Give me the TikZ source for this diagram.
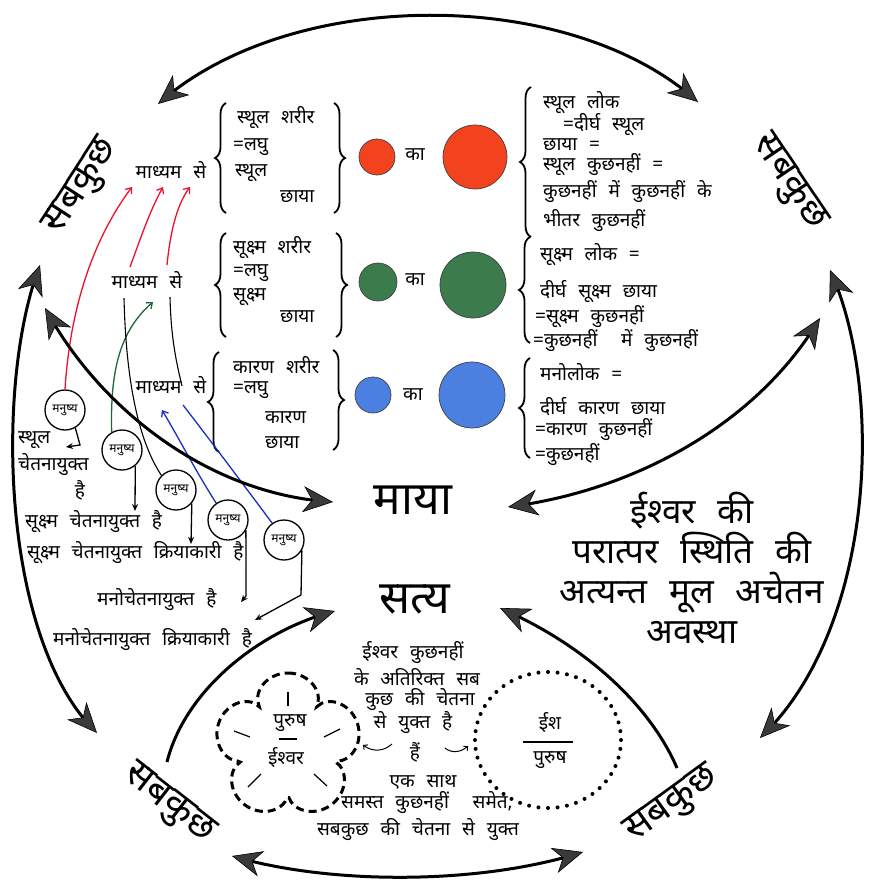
\documentclass[tikz,border=0pt]{standalone}
\usepackage{fontspec}
\setmainfont{Noto Sans}[Script=Devanagari,WordSpace=2.4]
\usetikzlibrary{arrows.meta,decorations.pathreplacing,bending,calc}
\definecolor{headgray}{HTML}{3A3A3A}
\definecolor{cred}{HTML}{F2431E}
\definecolor{cgreen}{HTML}{3C7B4C}
\definecolor{cblue}{HTML}{4C80E0}
\definecolor{lred}{HTML}{F0102E}
\definecolor{lgreen}{HTML}{1E6638}
\definecolor{lblue}{HTML}{1C2FC4}
\begin{document}
\begin{tikzpicture}[x=1pt,y=-1pt,
  >={Stealth[length=30pt,width=26pt,inset=9pt,fill=headgray,line width=0.6pt]},
  bigline/.style={line width=3pt,draw=black},
  txt/.style={font=\fontsize{19}{21}\selectfont,inner sep=0pt},
  txtw/.style={txt,anchor=west},
  bigt/.style={font=\fontsize{46}{50}\selectfont,inner sep=0pt},
  midt/.style={font=\fontsize{35}{40}\selectfont,inner sep=0pt,align=center},
  sab/.style={font=\fontsize{39}{42}\selectfont,inner sep=0pt},
  brc/.style={decorate,decoration={brace,amplitude=11pt},line width=1.8pt},
  dot/.style={circle,draw=black!75,line width=0.7pt,inner sep=0pt},
  man/.style={circle,draw,line width=1.3pt,minimum size=40pt,inner sep=0pt,font=\fontsize{12}{13}\selectfont},
  thin/.style={line width=1.3pt,-{Stealth[length=7pt,width=6pt]}},
  colarr/.style={line width=1.3pt,-{Straight Barb[length=5pt,width=8pt]}},
  flower/.style={line width=3pt,dash pattern=on 8pt off 5pt}
]
\useasboundingbox (0,0) rectangle (870,880);
\fill[white] (0,0) rectangle (870,880);

% ---- corner labels
\node[sab,rotate=57] (sbtl) at (83,187) {सबकुछ};
\node[sab,rotate=-56] (sbtr) at (788,183) {सबकुछ};
\node[sab,rotate=-38] (sbbl) at (168,805) {सबकुछ};
\node[sab,rotate=36] (sbbr) at (673,806) {सबकुछ};

% ---- centre labels
\node[bigt] (maya) at (413,500) {माया};
\node[bigt] (satya) at (415,600) {सत्य};
\node[midt] (ishwar) at (692,568) {ईश्वर की\\परात्पर स्थिति की\\अत्यन्त मूल अचेतन\\अवस्था};

% ---- row 1
\node[txt] (mad1) at (171,170) {माध्यम से};
\draw[brc] (226,213) -- (226,103);
\node[txtw] (r1a) at (237,118) {स्थूल शरीर};
\node[txtw] (r1b) at (233,147) {=लघु};
\node[txtw] (r1c) at (235,173) {स्थूल};
\node[txtw] (r1d) at (280,197) {छाया};
\draw[brc] (334,103) -- (334,213);
\node[dot,fill=cred,minimum size=36pt] (c1s) at (377,157) {};
\node[txt] (ka1) at (415,155) {का};
\node[dot,fill=cred,minimum size=64pt] (c1b) at (475,157) {};
\draw[brc] (531,237) -- (531,87);
\node[txtw] (l1a) at (543,103) {स्थूल लोक};
\node[txtw] (l1b) at (563,125) {=दीर्घ स्थूल};
\node[txtw] (l1c) at (543,145) {छाया =};
\node[txtw] (l1d) at (543,165) {स्थूल कुछनहीं =};
\node[txtw] (l1e) at (543,192) {कुछनहीं में कुछनहीं के};
\node[txtw] (l1f) at (543,221) {भीतर कुछनहीं};

% ---- row 2
\node[txt] (mad2) at (147,280) {माध्यम से};
\draw[brc] (226,337) -- (226,233);
\node[txtw] (r2a) at (233,248) {सूक्ष्म शरीर};
\node[txtw] (r2b) at (233,273) {=लघु};
\node[txtw] (r2c) at (233,297) {सूक्ष्म};
\node[txtw] (r2d) at (280,317) {छाया};
\draw[brc] (336,233) -- (336,337);
\node[dot,fill=cgreen,minimum size=38pt] (c2s) at (378,282) {};
\node[txt] (ka2) at (415,280) {का};
\node[dot,fill=cgreen,minimum size=66pt] (c2b) at (473,285) {};
\draw[brc] (530,343) -- (530,237);
\node[txtw] (l2a) at (540,255) {सूक्ष्म लोक =};
\node[txtw] (l2b) at (540,292) {दीर्घ सूक्ष्म छाया};
\node[txtw] (l2c) at (535,317) {=सूक्ष्म कुछनहीं};
\node[txtw] (l2d) at (533,341) {=कुछनहीं \ में कुछनहीं};

% ---- row 3
\node[txt] (mad3) at (171,385) {माध्यम से};
\draw[brc] (219,452) -- (219,352);
\node[txtw] (r3a) at (233,365) {कारण शरीर};
\node[txtw] (r3b) at (233,390) {=लघु};
\node[txtw] (r3c) at (265,418) {कारण};
\node[txtw] (r3d) at (265,443) {छाया};
\draw[brc] (333,350) -- (333,450);
\node[dot,fill=cblue,minimum size=36pt] (c3s) at (373,395) {};
\node[txt] (ka3) at (413,395) {का};
\node[dot,fill=cblue,minimum size=66pt] (c3b) at (472,395) {};
\draw[brc] (530,458) -- (530,358);
\node[txtw] (l3a) at (540,372) {मनोलोक =};
\node[txtw] (l3b) at (540,407) {दीर्घ कारण छाया};
\node[txtw] (l3c) at (535,430) {=कारण कुछनहीं};
\node[txtw] (l3d) at (535,455) {=कुछनहीं};

% ---- manushya circles
\node[man] (m1) at (65,410) {मनुष्य};
\node[man] (m2) at (122,450) {मनुष्य};
\node[man] (m3) at (176,490) {मनुष्य};
\node[man] (m4) at (228,520) {मनुष्य};
\node[man] (m5) at (284,540) {मनुष्य};

\node[txtw] (t1a) at (18,440) {स्थूल};
\node[txtw] (t1b) at (18,465) {चेतनायुक्त};
\node[txt] (t1c) at (80,490) {है};
\node[txtw] (t2) at (25,522) {सूक्ष्म चेतनायुक्त है};
\node[txtw] (t3) at (27,553) {सूक्ष्म चेतनायुक्त क्रियाकारी है};
\node[txtw] (t4) at (97,600) {मनोचेतनायुक्त है};
\node[txtw] (t5) at (53,640) {मनोचेतनायुक्त क्रियाकारी है};

\coordinate (m1e) at (66,447);
\draw[thin] (m1.-60) -- (80,445) -- (m1e);
\draw[thin] (m2.-50) -- (135,511);
\draw[thin] (m3.-40) -- (191,544);
\draw[thin] (m4.-30) -- (246,596) -- (241,602);
\draw[thin] (m5.-30) -- (301,595) -- (255,620);

% ---- coloured connectors
\coordinate (ra) at (132,187);
\coordinate (rb) at (163,187);
\coordinate (rc) at (190,187);
\draw[colarr,lred] (m1.north) .. controls (70,310) and (92,240) .. (ra);
\coordinate (rbs) at (130,267);
\coordinate (rcs) at (167,265);
\draw[colarr,lred] (rbs) .. controls (140,240) and (150,210) .. (rb);
\draw[colarr,lred] (rcs) .. controls (170,235) and (176,205) .. (rc);
\coordinate (ge) at (153,302);
\draw[colarr,lgreen] (m2.120) .. controls (110,370) and (120,330) .. (ge);
\coordinate (k1) at (124,298);
\draw[line width=1.1pt] (k1) .. controls (126,380) and (138,440) .. (m3.135);
\coordinate (k2) at (170,297);
\coordinate (k2e) at (182,386);
\draw[line width=1.1pt] (k2) .. controls (171,340) and (177,365) .. (k2e);
\coordinate (be) at (162,410);
\draw[colarr,lblue] (m4.125) .. controls (195,470) and (180,440) .. (be);
\coordinate (b2e) at (183,405);
\draw[line width=1.3pt,lblue] (m5.125) .. controls (240,480) and (210,440) .. (b2e);

% ---- big connectors
\coordinate (tl) at (158,104);
\coordinate (tr) at (698,102);
\draw[bigline,<->] (tl) .. controls (290,-14) and (570,-14) .. (tr);
\coordinate (lt) at (40,265);
\coordinate (lb) at (97,733);
\draw[bigline,<->] (lt) .. controls (-5,380) and (0,640) .. (lb);
\coordinate (rt) at (830,270);
\coordinate (rbb) at (760,738);
\draw[bigline,<->] (rt) .. controls (885,390) and (875,630) .. (rbb);
\coordinate (bl) at (232,856);
\coordinate (br) at (583,852);
\draw[bigline,<->] (bl) .. controls (330,885) and (480,885) .. (br);
\coordinate (lm) at (45,308);
\coordinate (mw) at (333,502);
\draw[bigline,<->] (lm) .. controls (100,410) and (210,495) .. (mw);
\coordinate (me) at (508,507);
\coordinate (mr) at (820,318);
\draw[bigline,<->] (me) .. controls (640,490) and (760,420) .. (mr);
\coordinate (s1) at (167,762);
\coordinate (s1e) at (335,611);
\draw[bigline,->] (s1) .. controls (185,690) and (260,630) .. (s1e);
\coordinate (s2) at (677,768);
\coordinate (s2e) at (500,608);
\draw[bigline,->] (s2) .. controls (650,705) and (585,645) .. (s2e);

% ---- bottom centre text
\node[txt] (b1) at (413,653) {ईश्वर कुछनहीं};
\node[txt] (b2) at (417,677) {के अतिरिक्त सब};
\node[txt] (b3) at (420,700) {कुछ की चेतना};
\node[txt] (b4) at (413,723) {से युक्त है};
\node[txt] (b5) at (415,752) {हैं};
\node[txt] (b6) at (423,782) {एक साथ};
\node[txt] (b7) at (427,803) {समस्त कुछनहीं \ समेत,};
\node[txt] (b8) at (418,830) {सबकुछ की चेतना से युक्त};
\coordinate (hls) at (392,744);
\coordinate (hl) at (363,745);
\coordinate (hrs) at (445,748);
\coordinate (hr) at (468,746);
\draw[line width=1pt,-{Straight Barb[length=3pt,width=6pt]}] (hls) .. controls (383,752) and (372,752) .. (hl);
\draw[line width=1pt,-{Straight Barb[length=3pt,width=6pt]}] (hrs) .. controls (452,754) and (462,752) .. (hr);

% ---- flower (purush / ishvar)
\draw[flower] plot[samples=180,domain=0:360] ({288+(46+27*sqrt(abs(cos(2.5*\x))))*sin(\x)},{746-(46+27*sqrt(abs(cos(2.5*\x))))*cos(\x)}) -- cycle;
\node[txt] (pu) at (290,723) {पुरुष};
\node[txt] (iv) at (286,758) {ईश्वर};
\draw[line width=1.2pt] (279,739) -- (297,739);
\draw[line width=1.2pt] (288,692) -- (288,706);
\draw[line width=1.2pt] (234,731) -- (250,737);
\draw[line width=1.2pt] (324,737) -- (340,729);
\draw[line width=1.2pt] (248,787) -- (261,774);
\draw[line width=1.2pt] (314,774) -- (327,786);

% ---- dotted circle (ish / purush)
\coordinate (ishc) at (548,740);
\foreach \a in {0,7.5,...,352.5} {
  \fill (ishc) ++(\a:73 and 68) circle [radius=2];
}
\node[txt] (ish) at (550,723) {ईश};
\node[txt] (pur) at (550,760) {पुरुष};
\draw[line width=1.2pt] (523,742) -- (573,742);
\end{tikzpicture}
\end{document}
